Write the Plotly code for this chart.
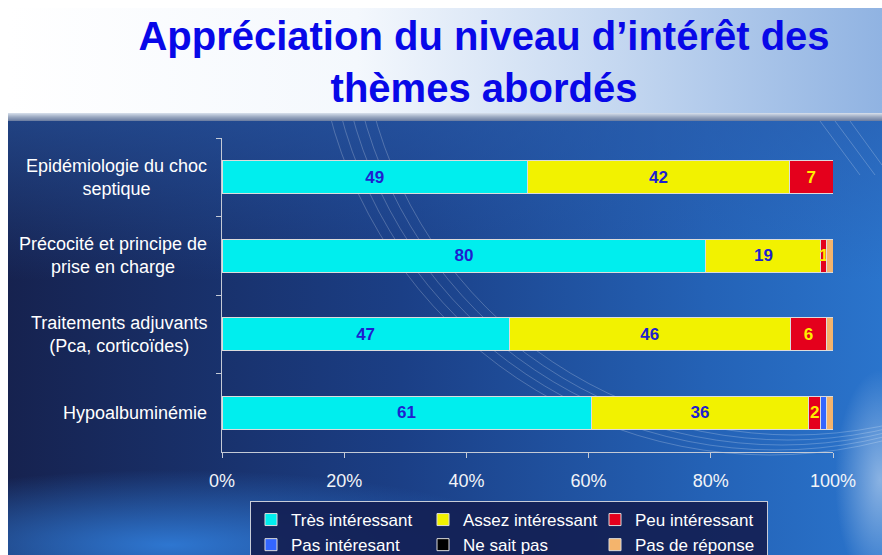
import base64
import plotly.graph_objects as go

# ---------------- data ----------------
categories = [
    "Epidémiologie du choc<br>septique",
    "Précocité et principe de<br>prise en charge",
    "Traitements adjuvants<br>(Pca, corticoïdes)",
    "Hypoalbuminémie",
]
series_names = ["Très intéressant", "Assez intéressant", "Peu intéressant",
                "Pas intéresant", "Ne sait pas", "Pas de réponse"]
tres_interessant = [49, 80, 47, 61]
assez_interessant = [42, 19, 46, 36]
peu_interessant = [7, 1, 6, 2]
pas_interessant = [0, 0, 0, 1]
ne_sait_pas = [0, 0, 0, 0]
pas_de_reponse = [0, 1, 1, 1]
x_tick_values = [0, 20, 40, 60, 80, 100]
x_tick_labels = ["0%", "20%", "40%", "60%", "80%", "100%"]
title_text = "Appréciation du niveau d’intérêt des<br>thèmes abordés"

series_values = [tres_interessant, assez_interessant, peu_interessant,
                 pas_interessant, ne_sait_pas, pas_de_reponse]
series_colors = ["#00eeee", "#f2f200", "#e4001c", "#3366ff", "#000000", "#f4b46c"]
label_colors = ["#1f1fcf", "#1f1fcf", "#ffee00", None, None, None]

# ---------------- layout geometry ----------------
W, H = 882, 555
ML, MR, MT, MB = 222, 49, 138, 103
PW, PH = W - ML - MR, H - MT - MB

# background slide as SVG
svg = f"""<svg xmlns='http://www.w3.org/2000/svg' width='{W}' height='{H}' viewBox='0 0 {W} {H}' preserveAspectRatio='none'>
<defs>
<linearGradient id='hdr' x1='0' y1='0' x2='1' y2='0'>
<stop offset='0' stop-color='#ffffff'/><stop offset='0.4' stop-color='#f4f8fd'/>
<stop offset='0.7' stop-color='#c4d7f0'/><stop offset='1' stop-color='#90b3e2'/></linearGradient>
<linearGradient id='sep' x1='0' y1='0' x2='0' y2='1'>
<stop offset='0' stop-color='#d8e0ec'/><stop offset='0.5' stop-color='#9aa8c0'/><stop offset='1' stop-color='#6a7ca0'/></linearGradient>
<linearGradient id='body' x1='0' y1='0' x2='1' y2='0'>
<stop offset='0' stop-color='#16224f'/><stop offset='0.45' stop-color='#1b3f86'/>
<stop offset='0.8' stop-color='#2462b6'/><stop offset='1' stop-color='#2a74cc'/></linearGradient>
<linearGradient id='topglow' x1='0' y1='0' x2='0' y2='1'>
<stop offset='0' stop-color='#2a5cac' stop-opacity='0.55'/><stop offset='1' stop-color='#2a5cac' stop-opacity='0'/></linearGradient>
<radialGradient id='blglow' cx='0.5' cy='0.5' r='0.5'>
<stop offset='0' stop-color='#2f7ad6' stop-opacity='0.95'/><stop offset='1' stop-color='#2f7ad6' stop-opacity='0'/></radialGradient>
<radialGradient id='rglow' cx='0.5' cy='0.5' r='0.5'>
<stop offset='0' stop-color='#ffffff' stop-opacity='0.45'/><stop offset='1' stop-color='#ffffff' stop-opacity='0'/></radialGradient>
<clipPath id='bodyclip'><rect x='8' y='121' width='874' height='434'/></clipPath>
</defs>
<rect x='0' y='0' width='{W}' height='{H}' fill='#ffffff'/>
<rect x='8' y='8' width='874' height='106' fill='url(#hdr)'/>
<rect x='8' y='113' width='874' height='8' fill='url(#sep)'/>
<g clip-path='url(#bodyclip)'>
<rect x='8' y='121' width='874' height='434' fill='url(#body)'/>
<rect x='8' y='121' width='874' height='160' fill='url(#topglow)'/>
<ellipse cx='170' cy='545' rx='360' ry='75' fill='url(#blglow)'/>
<ellipse cx='880' cy='480' rx='45' ry='110' fill='url(#rglow)'/>
<g fill='none' stroke='#ffffff' stroke-opacity='0.22' stroke-width='1'>
<circle cx='770' cy='0' r='455'/><circle cx='776' cy='0' r='450'/>
<circle cx='782' cy='0' r='445'/><circle cx='788' cy='0' r='440'/>
<circle cx='794' cy='0' r='435'/>
<line x1='820' y1='121' x2='860' y2='175'/><line x1='835' y1='121' x2='875' y2='175'/>
<line x1='850' y1='121' x2='882' y2='165'/>
</g>
</g>
</svg>"""
svg_uri = "data:image/svg+xml;base64," + base64.b64encode(svg.encode("utf-8")).decode("ascii")

FONT = "Liberation Sans, Arial, sans-serif"

fig = go.Figure()
for name, vals, col, lcol in zip(series_names, series_values, series_colors, label_colors):
    if lcol is None:
        texts = ["" for _ in vals]
    else:
        texts = [str(v) if v else "" for v in vals]
    fig.add_trace(go.Bar(
        y=categories, x=vals, name=name, orientation="h",
        marker=dict(color=col, line=dict(color="#dcdcdc", width=1)),
        width=0.42,
        text=texts, texttemplate="%{text}", textposition="inside",
        insidetextanchor="middle", textangle=0,
        insidetextfont=dict(family=FONT, size=17, color=lcol or "#ffffff", weight="bold"),
        hovertemplate="%{y}: %{x}<extra>" + name + "</extra>",
    ))

# category labels (centered multi-line, right edge 15 px left of the axis)
for c in categories:
    fig.add_annotation(
        x=0, xref="paper", y=c, yref="y", xanchor="right", xshift=-13,
        text=c, showarrow=False, align="center",
        font=dict(family=FONT, size=18, color="#ffffff"),
    )

fig.update_layout(
    width=W, height=H,
    margin=dict(l=ML, r=MR, t=MT, b=MB, autoexpand=False),
    barmode="stack", barnorm="percent",
    paper_bgcolor="rgba(0,0,0,0)", plot_bgcolor="rgba(0,0,0,0)",
    title=dict(
        text=title_text, x=484 / W, xanchor="center", xref="container",
        y=1 - 50 / H, yanchor="top", yref="container",
        font=dict(family=FONT, size=40, color="#0808e8", weight="bold"),
    ),
    xaxis=dict(
        range=[0, 100], tickvals=x_tick_values, ticktext=x_tick_labels,
        showgrid=False, zeroline=False, showline=True, linecolor="#c4cad6", linewidth=1,
        ticks="outside", ticklen=5, tickcolor="#c4cad6", ticklabelstandoff=7,
        tickfont=dict(family=FONT, size=18, color="#f2f4f8"),
    ),
    yaxis=dict(
        categoryorder="array", categoryarray=categories, autorange="reversed",
        showticklabels=False, showgrid=False, zeroline=False,
        showline=True, linecolor="#c4cad6", linewidth=1,
        ticks="outside", ticklen=5, tickcolor="#c4cad6", tickson="boundaries",
    ),
    legend=dict(
        orientation="h", x=(250 - ML) / PW, y=-(501 - (MT + PH)) / PH,
        xanchor="left", yanchor="top", entrywidth=127, entrywidthmode="pixels",
        itemwidth=30, traceorder="normal",
        bgcolor="rgba(20,32,84,0.92)", bordercolor="#c8ccd8", borderwidth=1,
        font=dict(family=FONT, size=17, color="#ffffff"),
    ),
    uniformtext=dict(minsize=17, mode="show"),
    images=[dict(
        source=svg_uri, xref="paper", yref="paper",
        x=-ML / PW, y=1 + MT / PH, sizex=W / PW, sizey=H / PH,
        xanchor="left", yanchor="top", sizing="stretch", layer="below",
    )],
    showlegend=True,
)

fig.write_html(
    "out.html",
    config={"displayModeBar": False},
    post_script="document.body.style.margin='0';document.body.style.overflow='hidden';",
)
